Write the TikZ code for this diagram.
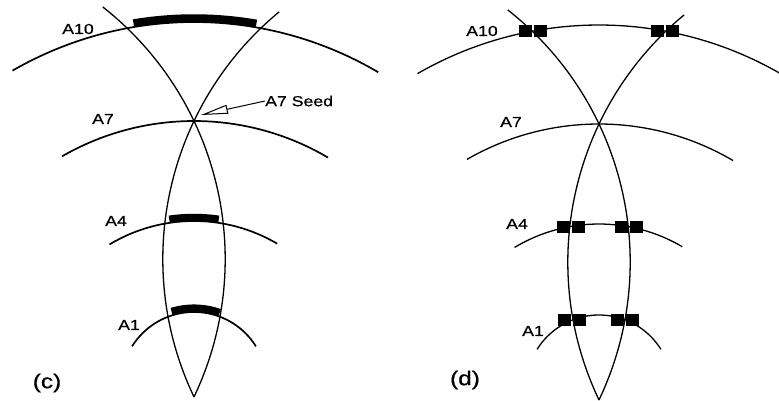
\documentclass[tikz,border=0pt]{standalone}
\usepackage{fontspec}
\newfontfamily\labfont[FakeStretch=1.22,FakeBold=0.6]{Liberation Sans}
\usetikzlibrary{arrows.meta,calc}
\tikzset{
  wave/.style={line width=1.7pt},
  lens/.style={line width=1.3pt},
  bar/.style={line width=7.5pt,line cap=butt},
  lab/.style={inner sep=0pt,font=\labfont\fontsize{14.5}{16}\selectfont},
  plab/.style={inner sep=0pt,font=\labfont\fontsize{20}{22}\selectfont},
  sq/.style={fill=black,draw=none,minimum width=13pt,minimum height=12pt,inner sep=0pt}
}
\begin{document}
\begin{tikzpicture}[x=1pt,y=1pt]
\useasboundingbox (0,0) rectangle (779,400);
\fill[white] (0,0) rectangle (779,400);
\clip (0,0) rectangle (779,400);
% ---------- panel (c)
\begin{scope}
\coordinate (O) at (194,15);
\coordinate (CR) at (-95.5,141);
\coordinate (CL) at (483.5,141);
% wavefronts
\draw[wave] ([shift={(59.5:363)}]O) arc[start angle=59.5,end angle=120,radius=363];
\draw[wave] ([shift={(59.5:264)}]O) arc[start angle=59.5,end angle=120,radius=264];
\draw[wave] ([shift={(59.5:164)}]O) arc[start angle=59.5,end angle=121,radius=164];
\draw[wave] ([shift={(32:73)}]O) arc[start angle=32,end angle=148,radius=73];
% lens
\draw[lens] ([shift={(51.8:320.7)}]CR) arc[start angle=51.8,end angle=-25.5,radius=320.7];
\draw[lens] ([shift={(129.6:320.7)}]CL) arc[start angle=129.6,end angle=205.5,radius=320.7];
% bars
\draw[bar] ([shift={(80.2:367)}]O) arc[start angle=80.2,end angle=99.5,radius=367];
\draw[bar] ([shift={(81.5:167.5)}]O) arc[start angle=81.5,end angle=98.5,radius=167.5];
\draw[bar] ([shift={(70.5:76.8)}]O) arc[start angle=70.5,end angle=107,radius=76.8];
% labels
\node[lab] (c10) at (78,371) {A10};
\node[lab] (c7) at (103,281) {A7};
\node[lab] (c4) at (116,179) {A4};
\node[lab] (c1) at (129,75) {A1};
\node[plab] (cc) at (47,17) {(c)};
\node[lab,anchor=west] (seed) at (265,299) {A7 Seed};
\coordinate (seedtip) at (201,285);
\draw[line width=1pt,-{Triangle[open,length=27pt,width=9pt,line width=1pt]}] (seed.west) -- (seedtip);
\end{scope}
% ---------- panel (d)
\begin{scope}[shift={(405,-3)}]
\coordinate (Od) at (194,15);
\coordinate (CRd) at (-95.5,141);
\coordinate (CLd) at (483.5,141);
\draw[lens] ([shift={(59.5:363)}]Od) arc[start angle=59.5,end angle=120,radius=363];
\draw[lens] ([shift={(59.5:264)}]Od) arc[start angle=59.5,end angle=120,radius=264];
\draw[lens] ([shift={(59.5:164)}]Od) arc[start angle=59.5,end angle=121,radius=164];
\draw[lens] ([shift={(32:73)}]Od) arc[start angle=32,end angle=148,radius=73];
\draw[lens] ([shift={(51.8:320.7)}]CRd) arc[start angle=51.8,end angle=-25.5,radius=320.7];
\draw[lens] ([shift={(129.6:320.7)}]CLd) arc[start angle=129.6,end angle=205.5,radius=320.7];
% squares
\foreach \nm/\px/\py in {a/127.9/371.5, b/260.1/371.5, c/165.5/176.5, d/223.5/176.5, e/167/83, f/220/83}{
  \node[sq] (s\nm1) at (\px-7.5,\py) {};
  \node[sq] (s\nm2) at (\px+7.5,\py) {};
}
\node[lab] (d10) at (77,372) {A10};
\node[lab] (d7) at (106,281) {A7};
\node[lab] (d4) at (112,179) {A4};
\node[lab] (d1) at (128,72) {A1};
\node[plab] (dd) at (60,23) {(d)};
\end{scope}
\end{tikzpicture}
\end{document}
